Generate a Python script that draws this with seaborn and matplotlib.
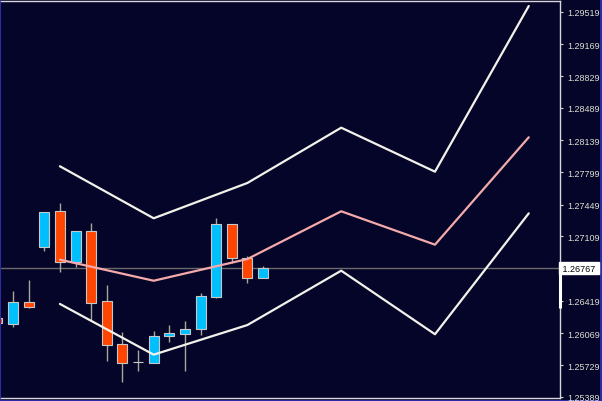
import matplotlib
matplotlib.use("Agg")
import matplotlib.pyplot as plt
import matplotlib.patches as mpatches
import matplotlib.transforms as mtrans
import numpy as np
import pandas as pd
import seaborn as sns

# candles
opens = [1.26233, 1.26169, 1.26405, 1.26995, 1.27381, 1.26834, 1.27167, 1.26416, 1.25954,
         1.25761, 1.25751, 1.26040, 1.26062, 1.26115, 1.26459, 1.27242, 1.26877, 1.26662]
highs = [1.26250, 1.26523, 1.26641, 1.27370, 1.27467, 1.27167, 1.27252, 1.26587, 1.26083,
         1.25890, 1.26094, 1.26158, 1.26201, 1.26502, 1.27306, 1.27242, 1.26898, 1.26791]
lows = [1.26170, 1.26137, 1.26341, 1.26952, 1.26727, 1.26780, 1.26201, 1.25772, 1.25547,
        1.25665, 1.25751, 1.25976, 1.25665, 1.26051, 1.26448, 1.26823, 1.26609, 1.26662]
closes = [1.26180, 1.26405, 1.26351, 1.27370, 1.26834, 1.27167, 1.26394, 1.25944, 1.25751,
          1.25761, 1.26040, 1.26072, 1.26115, 1.26469, 1.27242, 1.26877, 1.26662, 1.26767]

# envelope lines
line_x = [4, 10, 16, 22, 28, 34]
upper = [1.27861, 1.27303, 1.27682, 1.28275, 1.27803, 1.29580]
middle = [1.26859, 1.26633, 1.26866, 1.27378, 1.27020, 1.28172]
lower = [1.26384, 1.25840, 1.26158, 1.26741, 1.26059, 1.27356]

tick_vals = [1.29519, 1.29169, 1.28829, 1.28489, 1.28139, 1.27799, 1.27449,
             1.27109, 1.26419, 1.26069, 1.25729, 1.25389]
tick_labels = ["1.29519", "1.29169", "1.28829", "1.28489", "1.28139", "1.27799", "1.27449",
               "1.27109", "1.26419", "1.26069", "1.25729", "1.25389"]
last_price = 1.26767

BG = "#05052a"
BLUE = "#00bfff"
RED = "#ff4500"

sns.set_style("dark")
plt.rcParams["font.family"] = ["Liberation Sans", "DejaVu Sans"]

fig = plt.figure(figsize=(6.02, 4.02), dpi=100)
fig.patch.set_facecolor("#2c2caa")
fig.patches.append(mpatches.Rectangle((1 / 602, 1 - 401 / 402), 599 / 602, 400 / 402,
                                      transform=fig.transFigure, facecolor=BG,
                                      edgecolor="none", zorder=-10))
ax = fig.add_axes([1 / 602, 3 / 402, 559 / 602, 397 / 402])
ax.set_facecolor(BG)

ax.axhline(last_price, color="#6a6a6a", lw=1.0, zorder=1)

idx = np.arange(len(opens))
o = np.array(opens); c = np.array(closes)
cols = [BLUE if cc > oo else (RED if cc < oo else "#e8e8e8") for oo, cc in zip(o, c)]
ax.vlines(idx, lows, highs, color="#a8a898", lw=1.0, zorder=2)
ax.bar(idx, c - o, bottom=o, width=0.64, color=cols, edgecolor="#c8c8c8",
       linewidth=0.8, zorder=3)

df = pd.DataFrame({"x": line_x * 3,
                   "price": upper + middle + lower,
                   "band": ["upper"] * 6 + ["middle"] * 6 + ["lower"] * 6})
sns.lineplot(data=df, x="x", y="price", hue="band", units="band", estimator=None,
             palette={"upper": "#f2f2ea", "middle": "#f4aaaa", "lower": "#f2f2ea"},
             lw=1.6, legend=False, ax=ax, zorder=4)

ax.set_xlim(0.23, 36.0)
ax.set_ylim(1.25375, 1.29634)
ax.set_xticks([])
ax.yaxis.tick_right()
ax.set_yticks(tick_vals)
ax.set_yticklabels(tick_labels)
ax.tick_params(axis="y", length=2, width=0.8, color="#d0d0d0", labelcolor="#deded0",
               labelsize=6.5, pad=3)
ax.set_xlabel(""); ax.set_ylabel("")
for side in ["left"]:
    ax.spines[side].set_visible(False)
for side in ["top", "right", "bottom"]:
    ax.spines[side].set_visible(True)
    ax.spines[side].set_color("#d8d8d8")
    ax.spines[side].set_linewidth(1.0)
ax.grid(False)

# current price box and marker
trans = mtrans.blended_transform_factory(ax.transAxes, ax.transData)
ax.text(1.0, last_price, " 1.26767 ", transform=trans, ha="left", va="center",
        fontsize=6.5, color="black", clip_on=False, zorder=6,
        bbox=dict(boxstyle="square,pad=0.15", facecolor="white", edgecolor="white"))
ax.plot([1.0, 1.0], [last_price, 1.26341], transform=trans, color="white", lw=2.2,
        clip_on=False, zorder=6, solid_capstyle="butt")

fig.savefig("out.png", dpi=100, facecolor=fig.get_facecolor())
